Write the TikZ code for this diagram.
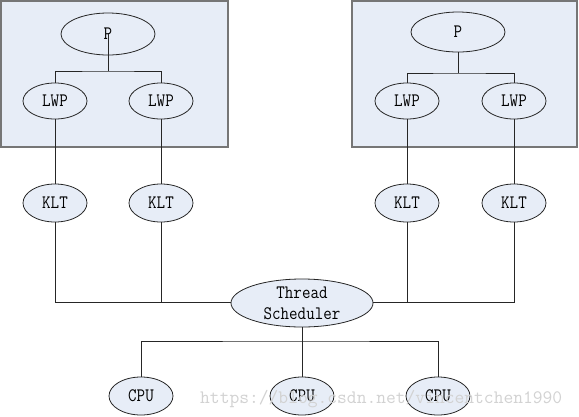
\documentclass[tikz,border=0pt]{standalone}
\usepackage{fontspec}
\newfontfamily\simfont[FakeStretch=0.87]{Latin Modern Mono}
\newfontfamily\wmfont{Latin Modern Mono}
\usetikzlibrary{shapes.geometric}
\definecolor{paleblue}{RGB}{231,237,247}
\definecolor{boxline}{RGB}{118,118,118}
\definecolor{wmgray}{RGB}{210,210,210}
\tikzset{
  procbox/.style={draw=boxline, line width=1.5pt, fill=paleblue},
  oval/.style={ellipse, draw=black!85, line width=0.8pt, fill=paleblue, inner sep=0pt, font=\simfont\fontsize{19}{21}\selectfont, align=center},
  wire/.style={draw=black!85, line width=1pt},
}
\begin{document}
\begin{tikzpicture}[x=1pt,y=-1pt]
\useasboundingbox (0,0) rectangle (579,416);
\fill[white] (0,0) rectangle (579,416);
% process boxes
\draw[procbox] (1,1) rectangle (228,147);
\draw[procbox] (352,1) rectangle (577,147);
% nodes
\node[oval, minimum width=94pt, minimum height=42pt] (P1) at (108,34) {P};
\node[oval, minimum width=94pt, minimum height=40pt] (P2) at (458,32) {P};
\node[oval, minimum width=64pt, minimum height=36pt] (L1) at (55,101) {LWP};
\node[oval, minimum width=64pt, minimum height=36pt] (L2) at (161,101) {LWP};
\node[oval, minimum width=64pt, minimum height=36pt] (L3) at (407,101) {LWP};
\node[oval, minimum width=64pt, minimum height=36pt] (L4) at (514,101) {LWP};
\node[oval, minimum width=64pt, minimum height=38pt] (K1) at (55,203) {KLT};
\node[oval, minimum width=64pt, minimum height=38pt] (K2) at (161,203) {KLT};
\node[oval, minimum width=64pt, minimum height=38pt] (K3) at (407,203) {KLT};
\node[oval, minimum width=64pt, minimum height=38pt] (K4) at (514,203) {KLT};
\node[oval, minimum width=142pt, minimum height=48pt] (TS) at (302,303) {Thread\\Scheduler};
\node[oval, minimum width=64pt, minimum height=38pt] (C1) at (141,396) {CPU};
\node[oval, minimum width=64pt, minimum height=38pt] (C2) at (302,396) {CPU};
\node[oval, minimum width=64pt, minimum height=38pt] (C3) at (438,396) {CPU};
% junctions
\coordinate (j1) at (108,71);
\coordinate (j2) at (458,73);
\coordinate (j3) at (302,341);
\coordinate (hb) at (302,302);
% connectors
\draw[wire] (P1.center) -- (j1);
\draw[wire] (L1) |- (j1) -| (L2);
\draw[wire] (P2) -- (j2);
\draw[wire] (L3) |- (j2) -| (L4);
\draw[wire] (L1) -- (K1);
\draw[wire] (L2) -- (K2);
\draw[wire] (L3) -- (K3);
\draw[wire] (L4) -- (K4);
\draw[wire] (K1) |- (TS.west |- hb);
\draw[wire] (K2) |- (TS.west |- hb);
\draw[wire] (K4) |- (TS.east |- hb);
\draw[wire] (K3) |- (TS.east |- hb);
\draw[wire] (TS) -- (j3);
\draw[wire] (C1) |- (j3) -| (C3);
\draw[wire] (j3) -- (C2);
% watermark
\node[anchor=base west, inner sep=0pt, text=wmgray, font=\wmfont\fontsize{19}{19}\selectfont] (wm) at (200,403) {https://blog.csdn.net/vincentchen1990};
\end{tikzpicture}
\end{document}
